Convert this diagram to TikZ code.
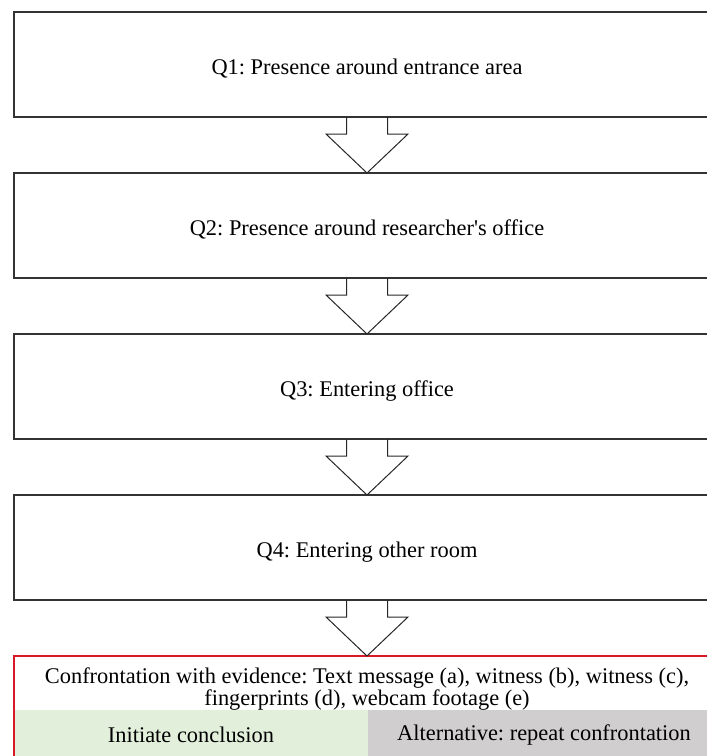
\documentclass[tikz,border=0pt]{standalone}
\usepackage{fontspec}
\setmainfont{Liberation Serif}
\usetikzlibrary{positioning, calc}
\definecolor{frameborder}{RGB}{51,51,51}
\definecolor{confred}{RGB}{215,25,40}
\definecolor{conclgreen}{RGB}{226,239,218}
\definecolor{repeatgrey}{RGB}{208,206,206}
\frenchspacing

\begin{document}
\begin{tikzpicture}[x=1pt, y=-1pt,
    every node/.style={font=\fontsize{22.4}{22}\selectfont},
    stage/.style={rectangle, draw=frameborder, line width=1.5pt, outer sep=0pt, minimum width=706pt, minimum height=105pt, inner sep=0pt, text height=22pt, text depth=1.5pt, align=center},
    evidence/.style={rectangle, outer sep=0pt, minimum width=706pt, minimum height=54pt, inner sep=0pt},
    choice/.style={rectangle, outer sep=0pt, minimum height=50pt, inner sep=0pt, anchor=north west},
    blockarrow/.style={draw=black!85, line width=1pt, line join=miter}
]
\useasboundingbox (0,0) rectangle (707,756);
\clip (0,0) rectangle (707,756);

\node[stage] (q1) at (367,64.5) {Q1: Presence around entrance area};
\node[stage, below=56pt of q1] (q2) {Q2: Presence around researcher\textquotesingle s office};
\node[stage, below=56pt of q2] (q3) {Q3: Entering office};
\node[stage, below=56pt of q3] (q4) {Q4: Entering other room};

\node[evidence, below=56pt of q4] (conf) {};
\node[align=center, inner sep=0pt] (conftext) at ($(conf.center)+(0,6)$) {Confrontation with evidence: Text message (a), witness (b), witness (c),\\fingerprints (d), webcam footage (e)};
\node[choice, fill=conclgreen, minimum width=354pt] (concl) at (conf.south west) {Initiate conclusion};
\node[choice, fill=repeatgrey, minimum width=352pt] (again) at (concl.north east) {Alternative: repeat confrontation};
\draw[confred, line width=1.3pt] (conf.north west) rectangle (again.south east);

% open block arrows between the stages
\foreach \from/\to in {q1/q2, q2/q3, q3/q4, q4/conf}
  \draw[blockarrow] ($(\from.south)+(-20.5,0)$) -- ++(0,17) -- ++(-20.5,0) -- (\to.north)
    -- ($(\from.south)+(41,17)$) -- ++(-20.5,0) -- ++(0,-17);

\end{tikzpicture}
\end{document}
